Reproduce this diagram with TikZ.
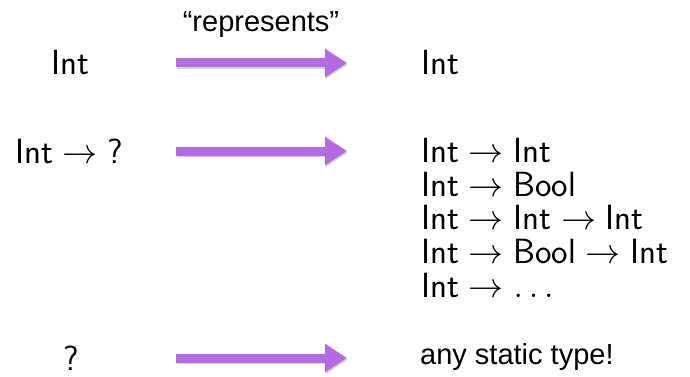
\RequirePackage{fix-cm}
\documentclass[tikz,border=0pt]{standalone}
\usepackage{fontspec}
\newfontfamily\lightsans{Liberation Sans}
\usetikzlibrary{arrows.meta}
\definecolor{arrowc}{RGB}{179,106,226}
\newcommand{\qm}{\textsf{?}}
\tikzset{
  typ/.style={inner sep=0pt, font=\fontsize{35}{35}\selectfont},
  plain/.style={inner sep=0pt, font=\fontsize{29}{29}\selectfont\lightsans},
  repr/.style={line width=9pt, arrowc, -{Triangle[length=22pt,width=27pt]}},
  reprshadow/.style={line width=9pt, black, opacity=0.18, -{Triangle[length=22pt,width=27pt]}}
}
\begin{document}
\begin{tikzpicture}[x=1pt,y=-1pt]
\path[use as bounding box] (0,0) rectangle (690,377);
% left column
\node[typ, anchor=base] (l1) at (70,75) {$\mathsf{Int}$};
\node[typ, anchor=base] (l2) at (69,163) {$\mathsf{Int}\rightarrow\qm$};
\node[typ, anchor=base] (l3) at (71,370) {\qm};
% right column
\node[typ, anchor=base west] (r1) at (421,75) {$\mathsf{Int}$};
\node[typ, anchor=base west] (r2a) at (421,162) {$\mathsf{Int}\rightarrow\mathsf{Int}$};
\node[typ, anchor=base west] (r2b) at (421,196) {$\mathsf{Int}\rightarrow\mathsf{Bool}$};
\node[typ, anchor=base west] (r2c) at (421,229.5) {$\mathsf{Int}\rightarrow\mathsf{Int}\rightarrow\mathsf{Int}$};
\node[typ, anchor=base west] (r2d) at (421,263) {$\mathsf{Int}\rightarrow\mathsf{Bool}\rightarrow\mathsf{Int}$};
\node[typ, anchor=base west] (r2e) at (421,297) {$\mathsf{Int}\rightarrow\ldots$};
\node[plain, anchor=base west] (r3) at (420,364) {any static type!};
% label
\node[plain, anchor=base] (rep) at (261,32) {“represents”};
% arrow end points
\coordinate (a1s) at (176,63); \coordinate (a1e) at (347,63);
\coordinate (a2s) at (176,151); \coordinate (a2e) at (347,151);
\coordinate (a3s) at (176,358); \coordinate (a3e) at (347,358);
\foreach \s/\e in {a1s/a1e, a2s/a2e, a3s/a3e}{
  \draw[reprshadow, transform canvas={xshift=0.8pt, yshift=-1.6pt}] (\s) -- (\e);
  \draw[repr] (\s) -- (\e);
}
\end{tikzpicture}
\end{document}
